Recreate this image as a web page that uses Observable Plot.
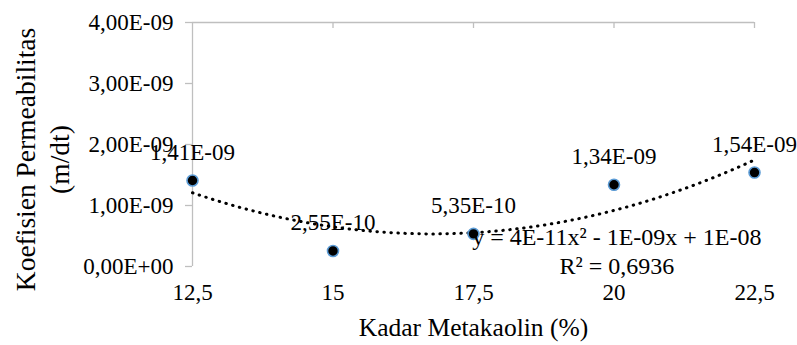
<!DOCTYPE html>
<html><head><meta charset="utf-8">
<script src="https://cdn.jsdelivr.net/npm/d3@7"></script>
<script src="https://cdn.jsdelivr.net/npm/@observablehq/plot@0.6"></script>
<style>
body{margin:0;background:#fff}
svg, svg text{font-family:"Liberation Serif", "Times New Roman", "DejaVu Serif", serif !important;}
</style>
</head><body><div id="chart"></div>
<script>
const kadar = [12.5, 15, 17.5, 20, 22.5];
const permeabilitas = [1.41e-9, 2.55e-10, 5.35e-10, 1.34e-9, 1.54e-9];
const pointLabels = ["1,41E-09", "2,55E-10", "5,35E-10", "1,34E-09", "1,54E-09"];
const xTicks = [12.5, 15, 17.5, 20, 22.5];
const xTickLabels = ["12,5", "15", "17,5", "20", "22,5"];
const yTicks = [0, 1e-9, 2e-9, 3e-9, 4e-9];
const yTickLabels = ["0,00E+00", "1,00E-09", "2,00E-09", "3,00E-09", "4,00E-09"];
const xTitle = "Kadar Metakaolin (%)";
const yTitle = "Koefisien Permeabilitas\n(m/dt)";
const equationText = "y = 4E-11x² - 1E-09x + 1E-08\nR² = 0,6936";
const equationPos = {x: 20.05, y: 0.26e-9};

const FONT = "Liberation Serif";
const data = kadar.map((k, i) => ({x: k, y: permeabilitas[i], label: pointLabels[i]}));

// quadratic least-squares trendline (polynomial order 2), as in the spreadsheet
function quadFit(xs, ys) {
  const n = xs.length;
  let s = [0,0,0,0,0], t = [0,0,0];
  for (let i = 0; i < n; i++) {
    const x = xs[i], y = ys[i] * 1e9;
    for (let p = 0; p <= 4; p++) s[p] += Math.pow(x, p);
    for (let p = 0; p <= 2; p++) t[p] += y * Math.pow(x, p);
  }
  const A = [[s[0], s[1], s[2], t[0]], [s[1], s[2], s[3], t[1]], [s[2], s[3], s[4], t[2]]];
  for (let c = 0; c < 3; c++) {
    for (let r = c + 1; r < 3; r++) {
      const f = A[r][c] / A[c][c];
      for (let k = c; k < 4; k++) A[r][k] -= f * A[c][k];
    }
  }
  const b = [0,0,0];
  for (let r = 2; r >= 0; r--) {
    let v = A[r][3];
    for (let k = r + 1; k < 3; k++) v -= A[r][k] * b[k];
    b[r] = v / A[r][r];
  }
  return x => (b[0] + b[1] * x + b[2] * x * x) * 1e-9;
}
const fit = quadFit(kadar, permeabilitas);
const trend = d3.range(0, 201).map(i => {
  const x = kadar[0] + (kadar[kadar.length - 1] - kadar[0]) * i / 200;
  return {x, y: fit(x)};
});

const chart = Plot.plot({
  width: 797, height: 345,
  marginLeft: 192, marginRight: 43, marginTop: 22, marginBottom: 79,
  style: {fontFamily: FONT, fontSize: "23px", color: "#000", background: "#fff"},
  x: {domain: [12.5, 22.5]},
  y: {domain: [0, 4e-9]},
  marks: [
    Plot.ruleY([4e-9], {stroke: "#bfbfbf", strokeWidth: 1.3}),
    Plot.ruleX([12.5], {stroke: "#bfbfbf", strokeWidth: 1.3}),
    Plot.ruleX(xTicks.slice(1), {y1: 4e-9, y2: 4e-9, insetBottom: -6, stroke: "#bfbfbf", strokeWidth: 1.3}),
    Plot.axisY({ticks: yTicks, tickFormat: d => yTickLabels[yTicks.indexOf(d)], tickSize: 7, tickPadding: 12, stroke: "#bfbfbf", strokeWidth: 1.3, label: null, fontSize: 23, fontFamily: FONT}),
    Plot.axisX({ticks: xTicks, tickFormat: d => xTickLabels[xTicks.indexOf(d)], tickSize: 0, tickPadding: 17, label: null, fontSize: 23, fontFamily: FONT}),
    Plot.text([xTitle], {frameAnchor: "bottom", dy: 69, fontSize: 25.5, fontFamily: FONT}),
    Plot.text([yTitle], {frameAnchor: "left", textAnchor: "middle", rotate: -90, dx: -151, dy: 15, lineHeight: 1.22, fontSize: 27.5, fontFamily: FONT}),
    Plot.line(trend, {x: "x", y: "y", stroke: "#000", strokeWidth: 3, strokeDasharray: "0.5,6.5", strokeLinecap: "round"}),
    Plot.dot(data, {x: "x", y: "y", r: 5.5, fill: "#000", stroke: "#5b9bd5", strokeWidth: 1.6}),
    Plot.text(data, {x: "x", y: "y", text: "label", dy: -28, fontSize: 23, fontFamily: FONT}),
    Plot.text([equationText], {x: () => equationPos.x, y: () => equationPos.y, lineHeight: 1.2, fontSize: 24, fontFamily: FONT})
  ]
});
document.getElementById("chart").appendChild(chart);
</script>
</body></html>
